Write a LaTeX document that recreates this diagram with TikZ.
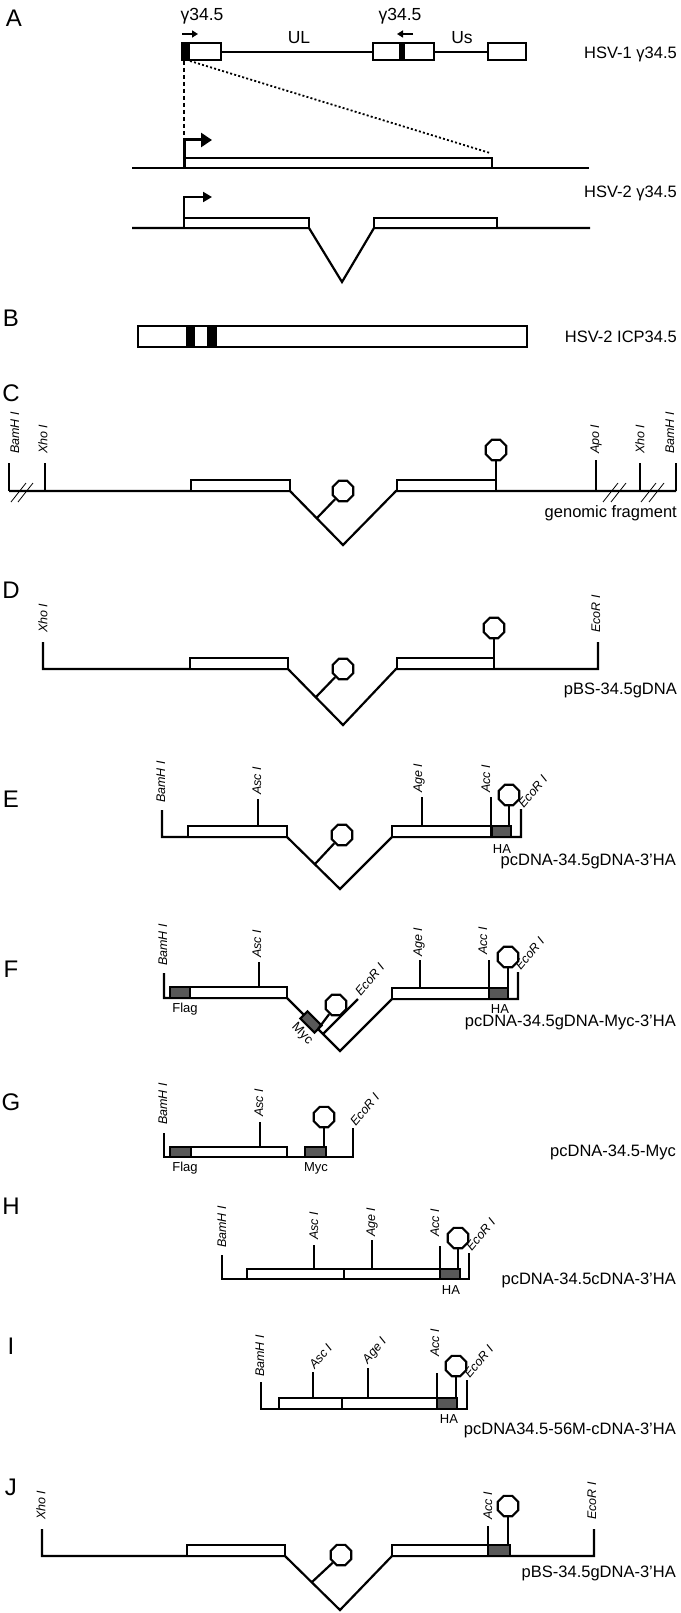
\documentclass[tikz,border=0pt]{standalone}
\usepackage{fontspec}
\setmainfont{Liberation Sans}
\usetikzlibrary{arrows.meta,shapes.geometric}
\definecolor{tagc}{RGB}{88,88,88}
\begin{document}
\begin{tikzpicture}[x=1pt,y=-1pt,
 ln/.style={line width=2.2pt},
 exon/.style={draw, line width=2.2pt, fill=white},
 tagbox/.style={draw, line width=2.2pt, fill=tagc},
 lab/.style={font=\fontsize{16.5}{18}\selectfont, inner sep=0pt},
 big/.style={font=\fontsize{17.5}{19}\selectfont, inner sep=0pt},
 plet/.style={font=\fontsize{24}{26}\selectfont, inner sep=0pt},
 enz/.style={font=\fontsize{12.5}{14}\selectfont\itshape, inner sep=0pt, rotate=90, anchor=west},
 enzd/.style={font=\fontsize{12.5}{14}\selectfont\itshape, inner sep=0pt, rotate=50, anchor=south west},
 sm/.style={font=\fontsize{13}{15}\selectfont, inner sep=0pt},
 oct/.style={regular polygon, regular polygon sides=8, draw, line width=2.2pt, fill=white, minimum size=22pt, inner sep=0pt},
 hatch/.style={line width=0.8pt},
 arr/.style={line width=2.2pt, -{Triangle[length=6pt,width=7pt]}},
]
\useasboundingbox (0,0) rectangle (680,1613);

% ---------------- Panel A ----------------
\node[plet] (lA) at (14,18) {A};
\node[big] (g1) at (202,16) {γ34.5};
\node[big] (g2) at (400,16) {γ34.5};
\coordinate (a1s) at (182,34); \coordinate (a1e) at (198,34);
\coordinate (a2s) at (413,34); \coordinate (a2e) at (397,34);
\draw[arr] (a1s) -- (a1e);
\draw[arr] (a2s) -- (a2e);
\draw[ln] (221,52) -- (373,52) (434,52) -- (488,52);
\draw[exon] (182,43) rectangle (221,60);
\fill (182,43) rectangle (190,60);
\draw[exon] (373,43) rectangle (434,60);
\fill (399,43) rectangle (405,60);
\draw[exon] (488,43) rectangle (526,60);
\node[big] (ul) at (299,38) {UL};
\node[big] (us) at (462,38) {Us};
\node[lab, anchor=east] (h1) at (677,54) {HSV-1 γ34.5};
\draw[line width=1.3pt, dash pattern=on 4pt off 3pt] (184,61) -- (184,140);
\draw[line width=1.8pt, dash pattern=on 2pt off 2.2pt] (190,61) -- (490,153);
% HSV-1 gene
\draw[ln] (132,168) -- (589,168);
\draw[exon] (184,158) rectangle (492,168);
\draw[line width=3pt, -{Triangle[length=11pt,width=14pt]}] (184,168) -- (184,140) -- (212,140);
% HSV-2 gene
\node[lab, anchor=east] (h2) at (677,193) {HSV-2 γ34.5};
\draw[ln] (132,228) -- (309,228) -- (342,282) -- (374,228) -- (590,228);
\draw[exon] (184,218) rectangle (309,228);
\draw[exon] (374,218) rectangle (497,228);
\draw[line width=2pt, -{Triangle[length=9pt,width=10pt]}] (184,228) -- (184,197) -- (212,197);

% ---------------- Panel B ----------------
\node[plet] (lB) at (11,318) {B};
\draw[exon] (138,326) rectangle (527,347);
\fill (186,326) rectangle (195,347);
\fill (207,326) rectangle (217,347);
\node[lab, anchor=east] (hb) at (677,337) {HSV-2 ICP34.5};

% ---------------- Panel C ----------------
\node[plet] (lC) at (11,393) {C};
\draw[ln] (9,491) -- (290,491) -- (343,545) -- (396,491) -- (676,491);
\draw[exon] (191,480) rectangle (290,491);
\draw[exon] (397,480) rectangle (496,491);
\draw[ln] (9,463) -- (9,491) (45,463) -- (45,491) (596,460) -- (596,491) (640,463) -- (640,491) (676,463) -- (676,491);
\node[enz] (c1) at (15,454) {BamH I};
\node[enz] (c2) at (43,454) {Xho I};
\node[enz] (c3) at (596,454) {Apo I};
\node[enz] (c4) at (640,454) {Xho I};
\node[enz] (c5) at (670,454) {BamH I};
\draw[hatch] (11,502) -- (26,483) (18,502) -- (33,483);
\draw[hatch] (603,502) -- (618,483) (611,502) -- (626,483);
\draw[hatch] (641,502) -- (656,483) (649,502) -- (664,483);
\node[oct] (co1) at (343,491) {};
\node[oct] (co2) at (496,450) {};
\coordinate (cs1) at (317,518);
\coordinate (cs2) at (496,480);
\draw[ln] (cs1) -- (co1);
\draw[ln] (cs2) -- (co2);
\node[lab, anchor=east] (cl) at (677,513) {genomic fragment};

% ---------------- Panel D ----------------
\node[plet] (lD) at (11,590) {D};
\draw[ln] (43,642) -- (43,669) -- (288,669) -- (343,725) -- (396,669) -- (598,669) -- (598,642);
\draw[exon] (190,658) rectangle (288,669);
\draw[exon] (397,658) rectangle (494,669);
\node[enz] (d1) at (43,633) {Xho I};
\node[enz] (d2) at (596,633) {EcoR I};
\node[oct] (do1) at (343,669) {};
\node[oct] (do2) at (494,628) {};
\coordinate (ds1) at (316,697);
\coordinate (ds2) at (494,658);
\draw[ln] (ds1) -- (do1);
\draw[ln] (ds2) -- (do2);
\node[lab, anchor=east] (dl) at (677,690) {pBS-34.5gDNA};

% ---------------- Panel E ----------------
\node[plet] (lE) at (11,799) {E};
\draw[ln] (162,810) -- (162,837) -- (287,837) -- (340,889) -- (392,837) -- (521,837) -- (521,809);
\draw[exon] (188,826) rectangle (287,837);
\draw[exon] (392,826) rectangle (492,837);
\draw[tagbox] (492,826) rectangle (511,837);
\draw[ln] (258,799) -- (258,826) (422,797) -- (422,826) (491,797) -- (491,837);
\node[enz] (e1) at (161,803) {BamH I};
\node[enz] (e2) at (257,795) {Asc I};
\node[enz] (e3) at (419,793) {Age I};
\node[enz] (e4) at (486,793) {Acc I};
\node[enzd] (e5) at (524,809) {EcoR I};
\node[oct] (eo1) at (342,835) {};
\node[oct] (eo2) at (509,795) {};
\coordinate (es1) at (315,864);
\coordinate (es2) at (509,826);
\draw[ln] (es1) -- (eo1);
\draw[ln] (es2) -- (eo2);
\node[sm] (eha) at (502,849) {HA};
\node[lab, anchor=east] (el) at (676,861) {pcDNA-34.5gDNA-3’HA};

% ---------------- Panel F ----------------
\node[plet] (lF) at (11,969) {F};
\draw[ln] (164,973) -- (164,998) -- (287,998) -- (340,1051) -- (392,999) -- (518,999) -- (518,972);
\draw[exon] (170,987) rectangle (287,998);
\draw[tagbox] (170,987) rectangle (190,998);
\draw[exon] (392,988) rectangle (489,999);
\draw[tagbox] (489,988) rectangle (508,999);
\draw[ln] (259,962) -- (259,987) (420,960) -- (420,988) (489,960) -- (489,999);
\node[enz] (f1) at (163,966) {BamH I};
\node[enz] (f2) at (257,958) {Asc I};
\node[enz] (f3) at (419,957) {Age I};
\node[enz] (f4) at (483,955) {Acc I};
\node[enzd] (f5) at (521,971) {EcoR I};
\node[tagbox, rotate=-45, minimum width=20pt, minimum height=10pt, inner sep=0pt] (fmyc) at (311,1022) {};
\node[sm, rotate=-45] (fmycl) at (302,1034) {Myc};
\coordinate (fe1) at (323,1034); \coordinate (fe2) at (358,999);
\draw[ln] (fe1) -- (fe2);
\node[enzd] (f6) at (361,997) {EcoR I};
\node[oct] (fo1) at (336,1005) {};
\node[oct] (fo2) at (508,957) {};
\coordinate (fs1) at (318,1029);
\coordinate (fs2) at (508,988);
\draw[ln] (fs1) -- (fo1);
\draw[ln] (fs2) -- (fo2);
\node[sm] (fflag) at (185,1009) {Flag};
\node[sm] (fha) at (500,1009) {HA};
\node[lab, anchor=east] (fl) at (676,1022) {pcDNA-34.5gDNA-Myc-3’HA};

% ---------------- Panel G ----------------
\node[plet] (lG) at (11,1102) {G};
\draw[ln] (164,1133) -- (164,1157) -- (353,1157) -- (353,1128);
\draw[exon] (170,1147) rectangle (287,1157);
\draw[tagbox] (170,1147) rectangle (191,1157);
\draw[tagbox] (305,1147) rectangle (326,1157);
\draw[ln] (260,1122) -- (260,1147);
\node[enz] (g1e) at (163,1125) {BamH I};
\node[enz] (g2e) at (259,1117) {Asc I};
\node[enzd] (g3e) at (356,1127) {EcoR I};
\node[oct] (go1) at (324,1117) {};
\coordinate (gs1) at (324,1147);
\draw[ln] (gs1) -- (go1);
\node[sm] (gflag) at (185,1168) {Flag};
\node[sm] (gmyc) at (316,1168) {Myc};
\node[lab, anchor=east] (gl) at (676,1152) {pcDNA-34.5-Myc};

% ---------------- Panel H ----------------
\node[plet] (lH) at (11,1206) {H};
\draw[ln] (222,1255) -- (222,1279) -- (469,1279) -- (469,1253);
\draw[exon] (247,1269) rectangle (344,1279);
\draw[exon] (344,1269) rectangle (440,1279);
\draw[tagbox] (440,1269) rectangle (460,1279);
\draw[ln] (314,1245) -- (314,1269) (372,1240) -- (372,1269) (440,1246) -- (440,1279);
\node[enz] (h1e) at (222,1248) {BamH I};
\node[enz] (h2e) at (314,1240) {Asc I};
\node[enz] (h3e) at (372,1237) {Age I};
\node[enz] (h4e) at (435,1237) {Acc I};
\node[enzd] (h5e) at (472,1252) {EcoR I};
\node[oct] (ho1) at (458,1238) {};
\coordinate (hs1) at (458,1269);
\draw[ln] (hs1) -- (ho1);
\node[sm] (hha) at (451,1290) {HA};
\node[lab, anchor=east] (hl) at (676,1280) {pcDNA-34.5cDNA-3’HA};

% ---------------- Panel I ----------------
\node[plet] (lI) at (11,1346) {I};
\draw[ln] (261,1382) -- (261,1409) -- (467,1409) -- (467,1380);
\draw[exon] (279,1398) rectangle (342,1409);
\draw[exon] (342,1398) rectangle (437,1409);
\draw[tagbox] (437,1398) rectangle (457,1409);
\draw[ln] (313,1372) -- (313,1398) (368,1368) -- (368,1398) (437,1373) -- (437,1409);
\node[enz] (i1e) at (260,1377) {BamH I};
\node[enzd] (i2e) at (315,1370) {Asc I};
\node[enzd] (i3e) at (370,1366) {Age I};
\node[enz] (i4e) at (435,1357) {Acc I};
\node[enzd] (i5e) at (470,1379) {EcoR I};
\node[oct] (io1) at (456,1366) {};
\coordinate (is1) at (456,1398);
\draw[ln] (is1) -- (io1);
\node[sm] (iha) at (449,1419) {HA};
\node[lab, anchor=east] (il) at (676,1430) {pcDNA34.5-56M-cDNA-3’HA};

% ---------------- Panel J ----------------
\node[plet] (lJ) at (11,1487) {J};
\draw[ln] (42,1529) -- (42,1556) -- (285,1556) -- (340,1610) -- (392,1556) -- (594,1556) -- (594,1529);
\draw[exon] (187,1545) rectangle (285,1556);
\draw[exon] (392,1545) rectangle (488,1556);
\draw[tagbox] (488,1545) rectangle (510,1556);
\draw[ln] (488,1526) -- (488,1556);
\node[enz] (j1e) at (41,1520) {Xho I};
\node[enz] (j2e) at (488,1520) {Acc I};
\node[enz] (j3e) at (592,1520) {EcoR I};
\node[oct] (jo1) at (341,1555) {};
\node[oct] (jo2) at (508,1506) {};
\coordinate (js1) at (312,1582);
\coordinate (js2) at (508,1545);
\draw[ln] (js1) -- (jo1);
\draw[ln] (js2) -- (jo2);
\node[lab, anchor=east] (jl) at (676,1573) {pBS-34.5gDNA-3’HA};
\end{tikzpicture}
\end{document}
